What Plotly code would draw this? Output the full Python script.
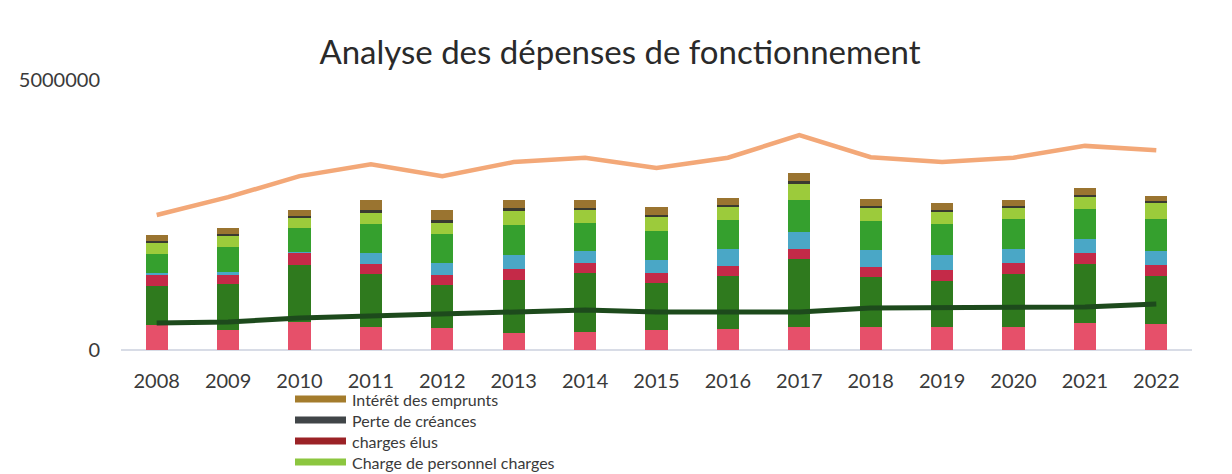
import plotly.graph_objects as go

years = [str(y) for y in range(2008, 2023)]

# stacked series (bottom to top)
charges_generales = [463000, 370000, 519000, 426000, 407000, 315000, 333000, 370000, 389000, 426000, 426000, 426000, 426000, 500000, 481000]
charges_personnel = [722000, 852000, 1056000, 981000, 796000, 981000, 1093000, 870000, 981000, 1259000, 926000, 852000, 981000, 1093000, 889000]
charges_elus = [204000, 167000, 222000, 185000, 185000, 204000, 185000, 185000, 185000, 185000, 185000, 204000, 204000, 204000, 204000]
autres_charges = [37000, 56000, 19000, 204000, 222000, 259000, 222000, 241000, 315000, 315000, 315000, 278000, 259000, 259000, 259000]
subventions = [352000, 463000, 444000, 537000, 537000, 556000, 519000, 537000, 537000, 593000, 537000, 574000, 556000, 556000, 593000]
charge_personnel_charges = [204000, 204000, 185000, 204000, 204000, 259000, 241000, 259000, 241000, 296000, 241000, 222000, 204000, 222000, 296000]
perte_creances = [37000, 37000, 37000, 56000, 56000, 56000, 37000, 37000, 37000, 56000, 37000, 37000, 37000, 37000, 37000]
interet_emprunts = [111000, 111000, 111000, 185000, 185000, 148000, 148000, 148000, 130000, 148000, 130000, 130000, 111000, 130000, 93000]

# line series
recettes = [2500000, 2830000, 3220000, 3440000, 3220000, 3480000, 3560000, 3370000, 3560000, 3980000, 3570000, 3480000, 3560000, 3780000, 3700000]
remboursement = [500000, 519000, 593000, 630000, 648000, 704000, 741000, 704000, 704000, 704000, 778000, 778000, 778000, 796000, 852000]

stack = [
    ("Charges à caractère général", charges_generales, "#E6506A"),
    ("Charges de personnel", charges_personnel, "#2F7A1E"),
    ("charges élus", charges_elus, "#C42A48"),
    ("Autres charges", autres_charges, "#4AA7C6"),
    ("Subventions", subventions, "#35A02E"),
    ("Charge de personnel charges", charge_personnel_charges, "#9CCB3B"),
    ("Perte de créances", perte_creances, "#3A3A30"),
    ("Intérêt des emprunts", interet_emprunts, "#9A7430"),
]

fig = go.Figure()
for name, vals, col in stack:
    fig.add_trace(go.Bar(x=years, y=vals, name=name, marker_color=col,
                         marker_line_width=0, showlegend=False))

fig.add_trace(go.Scatter(x=years, y=recettes, mode="lines", name="Recettes de fonctionnement",
                         line=dict(color="#F3A878", width=4.5), showlegend=False))
fig.add_trace(go.Scatter(x=years, y=remboursement, mode="lines", name="Remboursement emprunts",
                         line=dict(color="#1D4A1C", width=5), showlegend=False))

# manual legend (as in the reference, only 4 items visible)
legend_items = [
    ("Intérêt des emprunts", "#A47C2C"),
    ("Perte de créances", "#404548"),
    ("charges élus", "#9B2226"),
    ("Charge de personnel charges", "#8CC63F"),
]
# positions below expressed in page pixels, plot area spans x 121..1192, y 80..350
x0p, wp = 295, 51
left, width_px, h_px = 121, 1071, 270
shapes = []
annotations = []
for i, (txt, col) in enumerate(legend_items):
    cy = 399 + i * 21.0
    shapes.append(dict(type="rect", xref="paper", yref="paper",
                       x0=(x0p - left) / width_px, x1=(x0p + wp - left) / width_px,
                       y0=(350 - (cy + 3.5)) / h_px, y1=(350 - (cy - 3.5)) / h_px,
                       fillcolor=col, line_width=0))
    annotations.append(dict(text=txt, xref="paper", yref="paper",
                            x=(x0p + wp + 4 - left) / width_px, y=(350 - cy) / h_px,
                            xanchor="left", yanchor="middle", showarrow=False,
                            font=dict(size=16, color="#3a3a3a", family="Lato")))

W, H = 1224, 466  # page body has an 8px margin
fig.update_layout(
    width=W, height=H,
    margin=dict(l=113, r=W - 1192 + 8, t=72, b=H - 342),
    paper_bgcolor="white", plot_bgcolor="white",
    barmode="stack", bargap=0.69,
    title=dict(text="Analyse des dépenses de fonctionnement", x=0.5, xanchor="center",
               y=1 - 44 / H, yanchor="middle",
               font=dict(family="Lato", size=33, color="#2a2a2a")),
    font=dict(family="Lato", color="#404040"),
    shapes=shapes, annotations=annotations,
)
fig.update_xaxes(showgrid=False, showline=False, ticks="",
                 tickfont=dict(size=20, color="#3a3a3a"), ticklabelstandoff=17)
fig.update_yaxes(range=[0, 5000000], tickvals=[0, 5000000], ticktext=["0", "5000000"],
                 showgrid=True, gridcolor="#e6e6e6", gridwidth=1,
                 zeroline=True, zerolinecolor="#d8dce6", zerolinewidth=1.5,
                 tickfont=dict(size=20, color="#3a3a3a"), ticklabelstandoff=20)

fig.write_html("out.html")
